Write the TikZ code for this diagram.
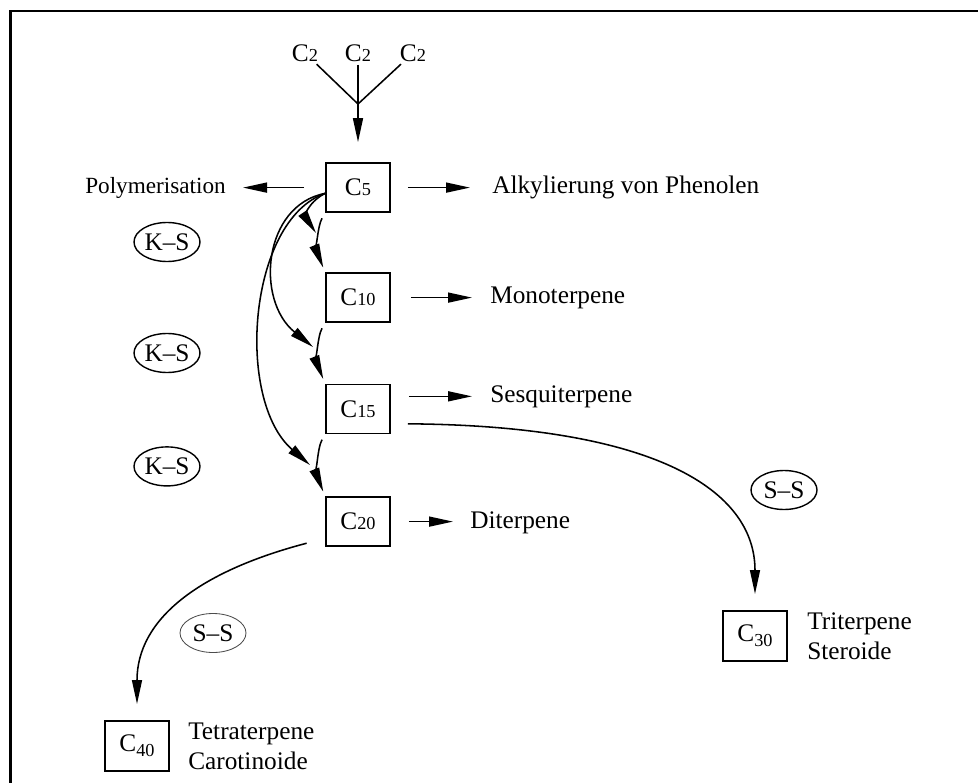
\documentclass[tikz,border=0pt]{standalone}
\usepackage{fontspec}
\setmainfont{Liberation Serif}
\usepackage{tikz}
\usetikzlibrary{arrows.meta, positioning, shapes.geometric}
\newcommand{\Csub}[1]{C{\fontsize{13}{13}\selectfont #1}}
\newcommand{\Clow}[1]{C\raisebox{-0.12cm}{\fontsize{13}{13}\selectfont #1}}

\begin{document}
\begin{tikzpicture}[
    %% Styles
    cbox/.style={
      rectangle, draw, line width=1.4pt,
      minimum width=1.6cm, minimum height=1.225cm,
      inner sep=0pt, font=\fontsize{18}{21.5}\selectfont
    },
    enz/.style={
      ellipse, draw, line width=1pt,
      minimum width=1.65cm, minimum height=0.975cm,
      inner sep=0pt, font=\fontsize{18}{21.5}\selectfont
    },
    prod/.style={
      inner sep=0pt, align=left,
      font=\fontsize{18}{21.5}\selectfont
    },
    src/.style={inner sep=1pt, font=\fontsize{18}{21.5}\selectfont},
    arrow/.style={-{Triangle[length=0.6cm, width=0.25cm]}, line width=1.1pt},
    link/.style={line width=1.1pt},
    frame/.style={line width=2.1pt}
  ]

  \useasboundingbox (0,0) rectangle (24.45,-19.575);

  %% ── Frame (top and left rule) ─────────────────────────────
  \draw[frame] (0.27,-19.575) -- (0.27,-0.275) -- (24.45,-0.275);

  %% ── Row 0: C2 units ───────────────────────────────────────
  \node[src] (c2a) at (7.625,-1.325)  {\Csub{2}};
  \node[src] (c2b) at (8.95,-1.325)   {\Csub{2}};
  \node[src] (c2c) at (10.325,-1.325) {\Csub{2}};
  \coordinate (junc) at (8.95,-2.6);

  %% ── Column: C5 ... C20 ────────────────────────────────────
  \node[cbox] (c5)  at (8.95,-4.69)   {\Csub{5}};
  \node[cbox] (c10) at (8.95,-7.44)   {\Csub{10}};
  \node[cbox] (c15) at (8.95,-10.225) {\Csub{15}};
  \node[cbox] (c20) at (8.95,-13.04)  {\Csub{20}};

  %% ── Products ──────────────────────────────────────────────
  \node[prod, anchor=west] (alkyl) at (12.3,-4.69)  {Alkylierung von Phenolen};
  \node[prod, anchor=west] (mono)  at (12.25,-7.44) {Monoterpene};
  \node[prod, anchor=west] (sesq)  at (12.25,-9.92) {Sesquiterpene};
  \node[prod, anchor=west] (di)    at (11.75,-13.06) {Diterpene};
  \node[prod, anchor=east, font=\fontsize{16.5}{20}\selectfont] (poly) at (5.65,-4.69)
    {Polymerisation};

  %% ── C30 / C40 ─────────────────────────────────────────────
  \node[cbox, minimum height=1.25cm] (c30) at (18.875,-15.9) {\Clow{30}};
  \node[prod, right=0.475cm of c30] (tri) {Triterpene\\Steroide};

  \node[cbox, minimum height=1.25cm] (c40) at (3.425,-18.65) {\Clow{40}};
  \node[prod, right=0.45cm of c40] (tetra) {Tetraterpene\\Carotinoide};

  %% ── Condensation types ────────────────────────────────────
  \node[enz] (ks1) at (4.175,-6.05)  {K--S};
  \node[enz] (ks2) at (4.175,-8.825) {K--S};
  \node[enz] (ks3) at (4.175,-11.66) {K--S};
  \node[enz] (ss1) at (19.6,-12.25)  {S--S};
  \node[enz, line width=0.6pt, draw=black!70] (ss2) at (5.325,-15.825) {S--S};

  % tips of the long arrows
  \coordinate (t10) at (7.9,-5.825);
  \coordinate (t15) at (7.825,-8.675);
  \coordinate (t20) at (7.75,-11.625);

  %% ════════════════════════════════════════════════════════
  %% ── Arrows ──────────────────────────────────────────────
  %% ════════════════════════════════════════════════════════

  % C2 + C2 + C2 -> C5
  \draw[link, shorten <=1pt] (c2a) -- (junc);
  \draw[link, shorten <=1pt] (c2b) -- (junc);
  \draw[link, shorten <=1pt] (c2c) -- (junc);
  \draw[arrow, shorten >=0.5cm] (junc) -- (c5.north);

  % side products
  \draw[arrow, shorten <=0.525cm, shorten >=0.425cm] (c5.west) -- (poly.east);
  \draw[arrow, shorten <=0.425cm, shorten >=0.55cm] (c5.east) -- (alkyl.west);
  \draw[arrow, shorten <=0.5cm, shorten >=0.45cm] (c10.east) -- (mono.west);
  \draw[arrow, shorten <=0.45cm, shorten >=0.45cm] (c15.21) -- (c15.21 -| sesq.west);
  \draw[arrow, shorten <=0.45cm, shorten >=0.425cm] (c20.east) -- (c20.east -| di.west);

  % chain elongation (short arrows)
  \draw[arrow, shorten <=0.15cm, shorten >=0.12cm]
    (c5.south west) .. controls +(-0.2,-0.35) and +(-0.2,0.5) .. (c10.north west);
  \draw[arrow, shorten <=0.15cm, shorten >=0.12cm]
    (c10.south west) .. controls +(-0.2,-0.35) and +(-0.2,0.5) .. (c15.north west);
  \draw[arrow, shorten <=0.15cm, shorten >=0.12cm]
    (c15.south west) .. controls +(-0.2,-0.35) and +(-0.2,0.5) .. (c20.north west);

  % C5 units added (long arrows)
  \draw[arrow] (c5.-170) .. controls +(-0.475,-0.25) and +(-0.25,0.375) .. (t10);
  \draw[arrow] (c5.-170) .. controls +(-1.55,-0.3) and +(-1.45,1.175) .. (t15);
  \draw[arrow] (c5.-170) .. controls +(-1.925,-0.675) and +(-1.875,1.625) .. (t20);

  % tail-to-tail
  \draw[arrow, shorten <=0.425cm, shorten >=0.4cm]
    (c15.-24) .. controls +(6.6,-0.05) and +(0,3.0) .. (c30.north);
  \draw[arrow, shorten <=0.475cm, shorten >=0.4cm]
    (c20.-153) .. controls +(-3.15,-0.825) and +(0,2.525) .. (c40.north);

\end{tikzpicture}
\end{document}
